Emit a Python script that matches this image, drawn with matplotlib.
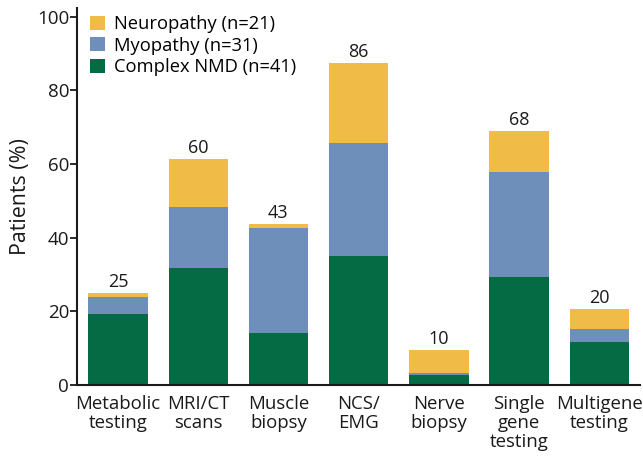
import numpy as np
import matplotlib
matplotlib.use("Agg")
import matplotlib.pyplot as plt

plt.rcParams['font.family'] = ['Open Sans', 'DejaVu Sans']

categories = ["Metabolic\ntesting", "MRI/CT\nscans", "Muscle\nbiopsy", "NCS/\nEMG",
              "Nerve\nbiopsy", "Single\ngene\ntesting", "Multigene\ntesting"]
complex_nmd = [19.4, 31.7, 14.2, 35.1, 2.8, 29.4, 11.6]
myopathy = [4.6, 16.6, 28.4, 30.6, 0.4, 28.6, 3.5]
neuropathy = [0.9, 13.1, 1.1, 21.7, 6.3, 11.0, 5.6]
totals = [25, 60, 43, 86, 10, 68, 20]

c_green = "#046B45"
c_blue = "#6E8FB9"
c_yellow = "#F0BC47"

fig = plt.figure(figsize=(6.43, 4.59), dpi=100)
ax = fig.add_axes([0.1205, 0.161, 0.8745, 0.8216])

x = np.arange(len(categories))
w = 0.74
g = np.array(complex_nmd)
b = np.array(myopathy)
y = np.array(neuropathy)
h1 = ax.bar(x, g, w, color=c_green, label="Complex NMD (n=41)")
h2 = ax.bar(x, b, w, bottom=g, color=c_blue, label="Myopathy (n=31)")
h3 = ax.bar(x, y, w, bottom=g + b, color=c_yellow, label="Neuropathy (n=21)")

for xi, top, t in zip(x, g + b + y, totals):
    ax.text(xi, top + 0.6, str(t), ha="center", va="bottom", fontsize=13, color="#1a1a1a")

ax.set_xlim(-0.505, 6.505)
ax.set_ylim(0, 102.4)
ax.set_yticks([0, 20, 40, 60, 80, 100])
ax.tick_params(axis="y", labelsize=13.5, length=5, width=1.3, pad=1, colors="#1a1a1a")
ax.set_xticks(x)
ax.set_xticklabels(categories, fontsize=13.4, linespacing=1.08, color="#1a1a1a")
ax.tick_params(axis="x", length=0, pad=7)
for s in ["top", "right"]:
    ax.spines[s].set_visible(False)
for s in ["left", "bottom"]:
    ax.spines[s].set_linewidth(1.5)
    ax.spines[s].set_color("#1a1a1a")
ax.set_ylabel("Patients (%)", fontsize=15.4, labelpad=4, color="#1a1a1a")

ax.legend(handles=[h3, h2, h1], loc="upper left", bbox_to_anchor=(0.0, 1.015),
          frameon=False, fontsize=13.2, handlelength=0.8, handleheight=0.8,
          handletextpad=0.5, labelspacing=0.2, borderaxespad=0.3)

fig.savefig("out.png", dpi=100)
